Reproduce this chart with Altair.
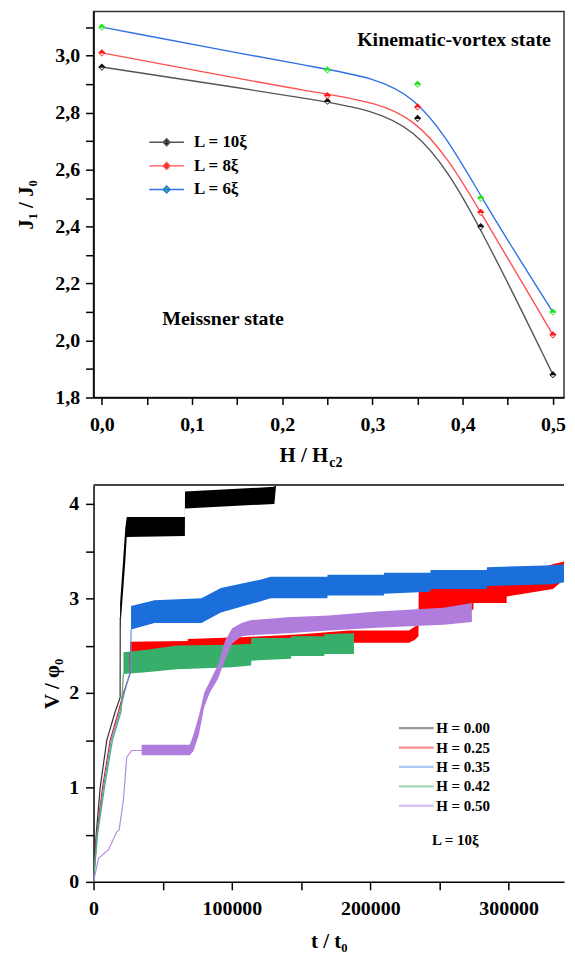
import altair as alt
import pandas as pd

FONT = "Liberation Serif"

# ---------------- top panel data ----------------
H_VALUES = [0.0, 0.25, 0.35, 0.42, 0.50]
J_L10 = [2.96, 2.84, 2.78, 2.40, 1.88]
J_L8 = [3.01, 2.86, 2.82, 2.45, 2.02]
J_L6 = [3.10, 2.95, 2.90, 2.50, 2.10]
L_LABELS = ["L = 10ξ", "L = 8ξ", "L = 6ξ"]
LINE_COLORS = ["#555555", "#ff5050", "#2f72e6"]
POINT_COLORS = ["#111111", "#ff1a1a", "#1ee61e"]

ANN_TEXT = ["Kinematic-vortex state", "Meissner state"]
ANN_H = [0.283, 0.067]
ANN_J = [3.034, 2.053]

TOP_X_TICKS = [0.0, 0.05, 0.1, 0.15, 0.2, 0.25, 0.3, 0.35, 0.4, 0.45, 0.5]
TOP_Y_TICKS = [1.8, 1.9, 2.0, 2.1, 2.2, 2.3, 2.4, 2.5, 2.6, 2.7, 2.8, 2.9, 3.0, 3.1]

# ---------------- bottom panel data ----------------
H_LABELS = ["H = 0.00", "H = 0.25", "H = 0.35", "H = 0.42", "H = 0.50"]
BAND_KEYS = ["0.00", "0.25", "0.35", "0.42", "0.50"]
BAND_COLORS = ["#000000", "#ff0000", "#1b6fdb", "#38ae6b", "#b17ddc"]
RISE_COLORS = ["#333333", "#ee2020", "#5b95ea", "#4fae74", "#b48ce6"]

# thin initial rises (t, V)
RISE_T_000 = [0, 1900, 4800, 9600, 15600, 19200, 19300]
RISE_V_000 = [0, 0.50, 1.00, 1.50, 1.80, 1.95, 2.80]
RISE_T_025 = [0, 2300, 6500, 12000, 18000, 21600, 26400, 26500]
RISE_V_025 = [0, 0.50, 1.00, 1.50, 1.80, 2.00, 2.20, 2.43]
RISE_T_035 = [0, 2500, 7200, 12800, 19000, 22300, 27000, 27100]
RISE_V_035 = [0, 0.50, 1.00, 1.50, 1.80, 2.00, 2.25, 2.67]
RISE_T_042 = [0, 2900, 7900, 13700, 19900, 21600]
RISE_V_042 = [0, 0.50, 1.00, 1.50, 1.80, 2.20]
RISE_T_050 = [0, 3600, 10800, 16800, 18500, 21600, 24000, 27600, 34700]
RISE_V_050 = [0, 0.25, 0.34, 0.53, 0.55, 0.87, 1.32, 1.39, 1.39]

# oscillation bands (t, lower envelope, upper envelope)
T_000 = [19200, 23000, 24000, 66000, 66100, 130700, 133500]
LO_000 = [2.65, 3.40, 3.65, 3.66, 3.95, 4.00, 4.45]
HI_000 = [2.95, 3.75, 3.86, 3.86, 4.13, 4.18, 4.60]

T_025 = [26400, 68000, 68100, 110000, 150000, 185000, 228000, 232000, 234800,
         235000, 274500, 274600, 298500, 298600, 332000, 340000]
LO_025 = [2.43, 2.45, 2.46, 2.50, 2.52, 2.53, 2.53, 2.56, 2.60,
          2.88, 2.88, 2.95, 2.95, 3.02, 3.10, 3.20]
HI_025 = [2.54, 2.55, 2.57, 2.59, 2.62, 2.66, 2.66, 2.70, 2.72,
          3.09, 3.12, 3.14, 3.18, 3.22, 3.36, 3.39]

T_035 = [27100, 44000, 78000, 92000, 121000, 128000, 169000, 169100, 209800,
         209900, 243400, 243500, 284200, 284300, 332000, 340000]
LO_035 = [2.67, 2.74, 2.74, 2.85, 2.97, 3.00, 3.00, 3.03, 3.03,
          3.05, 3.07, 3.10, 3.10, 3.13, 3.15, 3.17]
HI_035 = [2.92, 2.98, 3.00, 3.11, 3.20, 3.23, 3.23, 3.25, 3.25,
          3.27, 3.27, 3.30, 3.30, 3.33, 3.35, 3.36]

T_042 = [21600, 40000, 60000, 100000, 113900, 114000, 142700, 142800, 166700, 166800, 188200]
LO_042 = [2.20, 2.22, 2.25, 2.27, 2.29, 2.34, 2.36, 2.39, 2.39, 2.41, 2.41]
HI_042 = [2.43, 2.46, 2.50, 2.51, 2.52, 2.58, 2.58, 2.60, 2.60, 2.62, 2.63]

T_050 = [34700, 69500, 72000, 76000, 80000, 84000, 90000, 95000, 100000,
         107000, 114000, 140000, 170000, 205000, 253000, 273400]
LO_050 = [1.34, 1.34, 1.38, 1.55, 1.85, 2.00, 2.15, 2.35, 2.52,
          2.60, 2.61, 2.63, 2.66, 2.69, 2.72, 2.75]
HI_050 = [1.45, 1.45, 1.55, 1.75, 2.00, 2.12, 2.30, 2.55, 2.68,
          2.74, 2.77, 2.80, 2.82, 2.86, 2.90, 2.95]

NOTE_TEXT = ["L = 10ξ"]
NOTE_T = [244600]
NOTE_V = [0.39]

BOT_X_TICKS = [0, 50000, 100000, 150000, 200000, 250000, 300000]
BOT_Y_TICKS = [0, 0.5, 1, 1.5, 2, 2.5, 3, 3.5, 4]

# ---------------- tables ----------------
top_rows = []
for lab, js in zip(L_LABELS, [J_L10, J_L8, J_L6]):
    for h, j in zip(H_VALUES, js):
        top_rows.append({"H": h, "J": j, "L": lab})
top_df = pd.DataFrame(top_rows)
ann_df = pd.DataFrame({"text": ANN_TEXT, "H": ANN_H, "J": ANN_J})

rise_rows = []
for lab, ts, vs in zip(H_LABELS,
                       [RISE_T_000, RISE_T_025, RISE_T_035, RISE_T_042, RISE_T_050],
                       [RISE_V_000, RISE_V_025, RISE_V_035, RISE_V_042, RISE_V_050]):
    for t, v in zip(ts, vs):
        rise_rows.append({"t": t, "V": v, "Hs": lab})
rise_df = pd.DataFrame(rise_rows)

band_sets = {
    "0.00": (T_000, LO_000, HI_000),
    "0.25": (T_025, LO_025, HI_025),
    "0.35": (T_035, LO_035, HI_035),
    "0.42": (T_042, LO_042, HI_042),
    "0.50": (T_050, LO_050, HI_050),
}
band_rows = []
for key, (ts, los, his) in band_sets.items():
    for t, lo, hi in zip(ts, los, his):
        band_rows.append({"t": t, "lo": lo, "hi": hi, "Hb": key})
band_df = pd.DataFrame(band_rows)
note_df = pd.DataFrame({"text": NOTE_TEXT, "t": NOTE_T, "V": NOTE_V})

# ---------------- top chart ----------------
TOP_W, TOP_H = 473, 388
label_style = dict(labelFont=FONT, labelFontSize=20, labelFontWeight="bold", labelColor="black",
                   labelFlush=False, labelOverlap=False, grid=False,
                   domainColor="black", domainWidth=1.5, tickColor="black", tickWidth=1.5)

x_top = alt.X("H:Q", scale=alt.Scale(domain=[-0.0092, 0.5123], nice=False, zero=False),
              axis=alt.Axis(values=TOP_X_TICKS, title=None, tickSize=7, labelPadding=10,
                            labelExpr="round(datum.value*100) % 10 == 0 ? replace(format(datum.value, '.1f'), '.', ',') : ''",
                            **label_style))
y_top = alt.Y("J:Q", scale=alt.Scale(domain=[1.8, 3.155], nice=False, zero=False),
              axis=alt.Axis(values=TOP_Y_TICKS, title="J₁ / J₀", tickSize=8, labelPadding=6,
                            titlePadding=18,
                            labelExpr="round(datum.value*10) % 2 == 0 ? replace(format(datum.value, '.1f'), '.', ',') : ''",
                            **label_style))

legend_top = alt.Legend(title=None, orient="none", legendX=65, legendY=123,
                        symbolType="M-5,0H5M0,-1L1,0L0,1L-1,0Z", symbolSize=49, symbolStrokeWidth=1.4,
                        labelFont=FONT, labelFontSize=17, labelFontWeight="bold", labelColor="black",
                        labelOffset=19, rowPadding=5.7, padding=0, labelLimit=300)

top_lines = alt.Chart(top_df).mark_line(interpolate="basis", strokeWidth=1.4).encode(
    x=x_top, y=y_top,
    stroke=alt.Stroke("L:N", scale=alt.Scale(domain=L_LABELS, range=LINE_COLORS), legend=legend_top),
)
top_pts = alt.Chart(top_df).mark_point(shape="diamond", filled=True, size=52, opacity=1).encode(
    x=x_top, y=y_top,
    fill=alt.Fill("L:N", scale=alt.Scale(domain=L_LABELS, range=POINT_COLORS), legend=legend_top),
)
top_pts_half = alt.Chart(top_df).mark_point(shape="M-0.55,0.18L0,0.72L0.55,0.18Z", filled=True,
                                            size=52, fill="white", opacity=1).encode(x=x_top, y=y_top)
top_ann = alt.Chart(ann_df).mark_text(align="left", baseline="alphabetic", font=FONT, fontSize=20,
                                      fontWeight="bold", color="black").encode(
    x=x_top, y=y_top, text="text:N")
title_main = alt.Chart(ann_df.head(1)).mark_text(align="left", baseline="alphabetic", font=FONT,
                                                 fontSize=21, fontWeight="bold", color="black",
                                                 text="H / H").encode(x=alt.value(187), y=alt.value(453))
title_sub = alt.Chart(ann_df.head(1)).mark_text(align="left", baseline="alphabetic", font=FONT,
                                                fontSize=14, fontWeight="bold", color="black",
                                                text="c2").encode(x=alt.value(237), y=alt.value(458))

top = alt.layer(top_lines, top_pts, top_pts_half, top_ann, title_main, title_sub).properties(
    width=TOP_W, height=TOP_H,
    view=alt.ViewBackground(stroke="#333333", strokeWidth=1.5),
)

# ---------------- bottom chart ----------------
BOT_W, BOT_H = 473, 399
x_bot = alt.X("t:Q", scale=alt.Scale(domain=[0, 340000], nice=False, zero=False),
              axis=alt.Axis(values=BOT_X_TICKS, title="t / t₀", tickSize=8, labelPadding=9,
                            titlePadding=12,
                            labelExpr="datum.value % 100000 == 0 ? format(datum.value, 'd') : ''",
                            **label_style))
y_axis_bot = alt.Axis(values=BOT_Y_TICKS, title="V / φ₀", tickSize=8, labelPadding=7, titlePadding=6,
                      labelExpr="datum.value % 1 == 0 ? format(datum.value, 'd') : ''", **label_style)
y_scale_bot = alt.Scale(domain=[0, 4.2], nice=False, zero=False)

legend_bot = alt.Legend(title=None, orient="none", legendX=317, legendY=237,
                        symbolType="M-5,0H5", symbolSize=49, symbolStrokeWidth=2.3, symbolOpacity=0.5,
                        labelFont=FONT, labelFontSize=15, labelFontWeight="bold", labelColor="black",
                        labelOffset=12.5, rowPadding=3.5, padding=0, labelLimit=300)

band_layers = []
for key in ["0.25", "0.00", "0.35", "0.42", "0.50"]:
    band_layers.append(
        alt.Chart(band_df).transform_filter(alt.datum.Hb == key).mark_area(clip=True, opacity=1).encode(
            x=x_bot,
            y=alt.Y("lo:Q", scale=y_scale_bot, axis=y_axis_bot),
            y2="hi:Q",
            fill=alt.Fill("Hb:N", scale=alt.Scale(domain=BAND_KEYS, range=BAND_COLORS), legend=None),
        )
    )
rises = alt.Chart(rise_df).mark_line(strokeWidth=1.2, clip=True).encode(
    x=x_bot,
    y=alt.Y("V:Q", scale=y_scale_bot, axis=y_axis_bot),
    color=alt.Color("Hs:N", scale=alt.Scale(domain=H_LABELS, range=RISE_COLORS), legend=legend_bot),
)
note = alt.Chart(note_df).mark_text(align="left", baseline="alphabetic", font=FONT, fontSize=15,
                                    fontWeight="bold", color="black").encode(
    x=x_bot, y=alt.Y("V:Q", scale=y_scale_bot, axis=y_axis_bot), text="text:N")
top_border = alt.Chart(note_df).mark_rule(color="#444444", strokeWidth=2).encode(
    x=alt.value(0), x2=alt.value(BOT_W), y=alt.value(0))

bottom = alt.layer(*band_layers, rises, note, top_border).properties(
    width=BOT_W, height=BOT_H,
    view=alt.ViewBackground(stroke="transparent", strokeWidth=0),
)

chart = alt.vconcat(top, bottom, spacing=13).resolve_scale(
    fill="independent", stroke="independent", color="independent"
).resolve_legend(
    fill="independent", stroke="independent", color="independent"
).properties(
    padding={"left": 7, "top": 0, "right": 0, "bottom": 0}
).configure_axis(
    titleFont=FONT, titleFontSize=21, titleFontWeight="bold", titleColor="black",
).configure_view(stroke="transparent")

chart.save("out.html", embed_options={"renderer": "svg", "actions": False})
